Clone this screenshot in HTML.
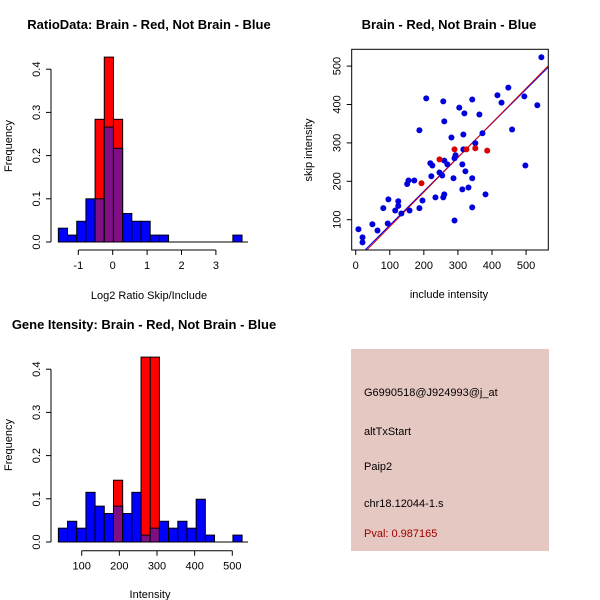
<!DOCTYPE html>
<html><head><meta charset="utf-8">
<style>
html,body{margin:0;padding:0;background:#fff;}
svg{display:block;font-family:"Liberation Sans",Arial,sans-serif;}
</style></head>
<body>
<svg id="c" width="600" height="600" viewBox="0 0 600 600">
<text x="149" y="29" font-size="13" font-weight="bold" text-anchor="middle">RatioData: Brain - Red, Not Brain - Blue</text>
<text x="449" y="29" font-size="13" font-weight="bold" text-anchor="middle">Brain - Red, Not Brain - Blue</text>
<text x="144" y="329" font-size="13" font-weight="bold" text-anchor="middle">Gene Itensity: Brain - Red, Not Brain - Blue</text>
<text x="149" y="299" font-size="11" text-anchor="middle">Log2 Ratio Skip/Include</text>
<text x="150" y="598" font-size="11" text-anchor="middle">Intensity</text>
<text x="449" y="298" font-size="11" text-anchor="middle">include intensity</text>
<text transform="translate(12,146) rotate(-90)" font-size="11" text-anchor="middle">Frequency</text>
<text transform="translate(12,445) rotate(-90)" font-size="11" text-anchor="middle">Frequency</text>
<text transform="translate(312,150) rotate(-90)" font-size="11" text-anchor="middle">skip intensity</text>
<g>
<rect x="351" y="349" width="198" height="202" fill="#e6c8c2"/>
<text x="364" y="396" font-size="11">G6990518@J924993@j_at</text>
<text x="364" y="435" font-size="11">altTxStart</text>
<text x="364" y="470" font-size="11">Paip2</text>
<text x="364" y="507" font-size="11">chr18.12044-1.s</text>
<text x="364" y="537" font-size="11" fill="#a00000">Pval: 0.987165</text>
</g>
</svg>
<script>
// ---- Ratio histogram data ----
const ratioBinStart = -1.58;
const ratioBinWidth = 0.267;
const ratioBlue = [0.032,0.016,0.048,0.1,0.1,0.266,0.217,0.066,0.048,0.048,0.016,0.016,0,0,0,0,0,0,0,0.016];
const ratioRed  = [0,0,0,0,0.284,0.428,0.284,0,0,0,0,0,0,0,0,0,0,0,0,0];
const ratioXTicks = [-1,0,1,2,3];
const freqTicks = [0.0,0.1,0.2,0.3,0.4];
const freqTickLabels = ["0.0","0.1","0.2","0.3","0.4"];
// ---- Intensity histogram data ----
const intBinStart = 38;
const intBinWidth = 24.4;
const intBlue = [0.032,0.048,0.032,0.115,0.083,0.066,0.083,0.066,0.115,0.016,0.032,0.048,0.032,0.048,0.032,0.099,0.016,0,0,0.016];
const intRed  = [0,0,0,0,0,0,0.143,0,0,0.428,0.428,0,0,0,0,0,0,0,0,0];
const intXTicks = [100,200,300,400,500];
// ---- Scatter data ----
const blueX = [8,20,20,49,64,81,94,96,116,125,125,134,151,155,158,172,187,187,196,207,219,222,225,234,246,254,257,257,260,260,260,269,281,287,290,290,293,304,313,313,316,316,319,322,331,342,342,342,363,372,351,381,416,428,448,459,495,498,533,545];
const blueY = [75,54,41,88,72,130,90,153,124,148,136,116,193,202,124,202,333,130,150,416,247,213,241,158,223,215,408,158,166,356,254,244,314,208,98,260,268,392,244,179,322,283,377,226,184,132,413,208,374,325,299,166,424,405,444,335,421,241,398,523];
const redX = [193,246,290,325,351,386];
const redY = [195,257,283,283,286,280];
const scatterXTicks = [0,100,200,300,400,500];
const scatterYTicks = [100,200,300,400,500];
const blueLine = [-3,0.885];   // intercept, slope
const redLine = [-8,0.9];

const NS="http://www.w3.org/2000/svg";
const svg=document.getElementById('c');
function mk(tag,attrs,parent){const e=document.createElementNS(NS,tag);for(const k in attrs)e.setAttribute(k,attrs[k]);(parent||svg).appendChild(e);return e;}
const PURPLE="#7f0f85";

function histogram(prefix,opt){
  const g=mk('g',{});
  
  
  const sx=v=>opt.x0px+(v-opt.x0)*opt.xs;
  const sy=v=>opt.y0px-v*opt.ys;
  for(let i=0;i<opt.blue.length;i++){
    const l=sx(opt.start+i*opt.w), r=sx(opt.start+(i+1)*opt.w);
    const b=opt.blue[i], rd=opt.red[i];
    const hi=Math.max(b,rd), lo=Math.min(b,rd);
    if(hi<=0) continue;
    const col = b>=rd ? (rd>0?PURPLE:'#0000ff') : '#ff0000';
    const bar=mk('rect',{x:l,y:sy(hi),width:r-l,height:sy(0)-sy(hi),fill:col,stroke:'#000','stroke-width':1},g);
    
    
    if(lo>0 && b<rd){
      const ov=mk('rect',{x:l,y:sy(lo),width:r-l,height:sy(0)-sy(lo),fill:PURPLE,stroke:'#000','stroke-width':1},g);
      
      
    }
  }
  const n=opt.blue.length;
  mk('line',{x1:sx(opt.start),x2:sx(opt.start+n*opt.w)+6,y1:sy(0),y2:sy(0),stroke:'#000'},g);
  const ya=mk('g',{},g);
  
  
  mk('line',{x1:opt.yaxX,x2:opt.yaxX,y1:sy(0),y2:sy(0.4),stroke:'#000'},ya);
  freqTicks.forEach((t,i)=>{
    mk('line',{x1:opt.yaxX-5,x2:opt.yaxX,y1:sy(t),y2:sy(t),stroke:'#000'},ya);
    const tx=mk('text',{transform:`translate(${opt.yaxX-11},${sy(t)}) rotate(-90)`,'font-size':11,'text-anchor':'middle'},ya);
    tx.textContent=freqTickLabels[i];
  });
  const xa=mk('g',{},g);
  
  
  const tk=opt.xticks;
  mk('line',{x1:sx(tk[0]),x2:sx(tk[tk.length-1]),y1:opt.xaxY,y2:opt.xaxY,stroke:'#000'},xa);
  tk.forEach(t=>{
    mk('line',{x1:sx(t),x2:sx(t),y1:opt.xaxY,y2:opt.xaxY+5,stroke:'#000'},xa);
    const tx=mk('text',{x:sx(t),y:opt.xaxY+19,'font-size':11,'text-anchor':'middle'},xa);
    tx.textContent=String(t);
  });
}

histogram('ratio',{blue:ratioBlue,red:ratioRed,start:ratioBinStart,w:ratioBinWidth,
  x0:0,x0px:112.7,xs:34.4,y0px:242,ys:432,yaxX:51,xaxY:250,xticks:ratioXTicks});
histogram('intensity',{blue:intBlue,red:intRed,start:intBinStart,w:intBinWidth,
  x0:100,x0px:81.7,xs:0.3765,y0px:542,ys:432,yaxX:51,xaxY:550.7,xticks:intXTicks});

(function(){
  const g=mk('g',{});
  
  
  const L=351.7,R=548.3,T=49.3,B=250;
  const sx=v=>355.7+v*0.3407;
  const sy=v=>219.7-(v-100)*0.384;
  const defs=mk('defs',{},g);
  const cp=mk('clipPath',{id:'sc'},defs);
  mk('rect',{x:L,y:T,width:R-L,height:B-T},cp);
  const lines=mk('g',{'clip-path':'url(#sc)'},g);
  [[blueLine,'#0000ff','blue-fit-line'],[redLine,'#d00000','red-fit-line']].forEach(([ln,col,nm])=>{
    const x1=-50,x2=700;
    const e=mk('line',{x1:sx(x1),y1:sy(ln[0]+ln[1]*x1),x2:sx(x2),y2:sy(ln[0]+ln[1]*x2),stroke:col,'stroke-width':1},lines);
    
    
  });
  const pts=mk('g',{},g);
  blueX.forEach((x,i)=>{
    const c=mk('circle',{cx:sx(x),cy:sy(blueY[i]),r:3,fill:'#0000dd'},pts);
    
    
  });
  redX.forEach((x,i)=>{
    const c=mk('circle',{cx:sx(x),cy:sy(redY[i]),r:3,fill:'#dd0000'},pts);
    
    
  });
  const box=mk('rect',{x:L,y:T,width:R-L,height:B-T,fill:'none',stroke:'#000'},g);
  
  
  const xa=mk('g',{},g);
  
  
  scatterXTicks.forEach(t=>{
    mk('line',{x1:sx(t),x2:sx(t),y1:B,y2:B+5,stroke:'#000'},xa);
    const tx=mk('text',{x:sx(t),y:B+19,'font-size':11,'text-anchor':'middle'},xa);
    tx.textContent=String(t);
  });
  const ya=mk('g',{},g);
  
  
  scatterYTicks.forEach(t=>{
    mk('line',{x1:L-5,x2:L,y1:sy(t),y2:sy(t),stroke:'#000'},ya);
    const tx=mk('text',{transform:`translate(${L-11},${sy(t)}) rotate(-90)`,'font-size':11,'text-anchor':'middle'},ya);
    tx.textContent=String(t);
  });
})();
</script>
</body></html>
